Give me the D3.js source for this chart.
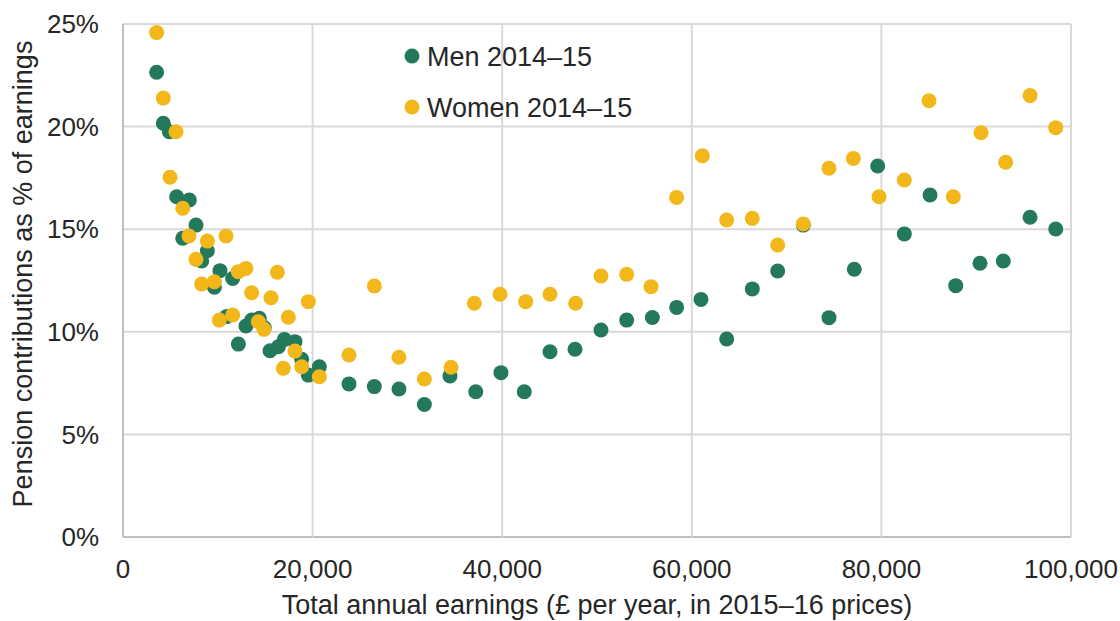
<!DOCTYPE html>
<html>
<head>
<meta charset="utf-8">
<script src="https://cdn.jsdelivr.net/npm/d3@7"></script>
<style>
  body { margin: 0; background: #fff; }
  text { font-family: "Liberation Sans", Arial, sans-serif; fill: #262626; }
</style>
</head>
<body>
<div id="chart"></div>
<script>
// earnings (£) and contribution rate (%)
var menX = [3550, 4250, 4890, 5660, 7000, 6300, 7700, 8900, 8300, 10230, 11570, 9640, 10930, 12970, 13570, 14380, 14900, 12170,
  15510, 16390, 17020, 18140, 18850, 19550, 20710, 23840, 26510, 29110, 31790, 34490, 37210, 39870, 42330, 45040, 47680,
  50420, 53130, 55840, 58400, 60970, 63680, 66380, 69060, 71760, 74470, 77140, 79610, 82420, 85130, 87840, 90400, 92860, 95680, 98390];
var menY = [22.65, 20.16, 19.75, 16.58, 16.42, 14.56, 15.2, 13.95, 13.45, 12.98, 12.6, 12.17, 10.74, 10.28, 10.57, 10.66, 10.2, 9.4,
  9.08, 9.27, 9.63, 9.52, 8.66, 7.89, 8.3, 7.46, 7.33, 7.21, 6.46, 7.85, 7.08, 8.01, 7.08, 9.03, 9.15,
  10.09, 10.57, 10.7, 11.19, 11.58, 9.65, 12.09, 12.96, 15.2, 10.69, 13.05, 18.08, 14.77, 16.67, 12.25, 13.34, 13.45, 15.58, 15.01];

var womenX = [3550, 4250, 4960, 5590, 6300, 6960, 7700, 8300, 8900, 9640, 10160, 10870, 11570, 12170, 12970, 13570, 14280, 14870,
  15610, 16280, 16910, 17440, 18140, 18850, 19550, 20710, 23840, 26510, 29110, 31790, 34600, 37060, 39770, 42480, 45040, 47750,
  50420, 53130, 55700, 58400, 61110, 63680, 66380, 69060, 71760, 74470, 77040, 79750, 82420, 85020, 87590, 90510, 93110, 95680, 98390];
var womenY = [24.58, 21.39, 17.53, 19.75, 16.02, 14.67, 13.53, 12.33, 14.42, 12.44, 10.57, 14.67, 10.82, 12.93, 13.09, 11.9, 10.49, 10.12,
  11.66, 12.9, 8.22, 10.71, 9.06, 8.3, 11.47, 7.81, 8.87, 12.23, 8.76, 7.7, 8.27, 11.39, 11.83, 11.47, 11.83, 11.39,
  12.72, 12.8, 12.2, 16.55, 18.58, 15.45, 15.53, 14.23, 15.25, 17.97, 18.45, 16.58, 17.4, 21.26, 16.58, 19.7, 18.26, 21.51, 19.95];

var seriesNames = ["Men 2014\u201315", "Women 2014\u201315"];
var seriesColors = ["#23795a", "#f2b71a"];
var xTicks = [0, 20000, 40000, 60000, 80000, 100000];
var yTicks = [0, 5, 10, 15, 20, 25];

var width = 1120, height = 621;
var margin = {top: 24, right: 49, bottom: 84, left: 123};

var svg = d3.select("#chart").append("svg")
    .attr("width", width)
    .attr("height", height);

var x = d3.scaleLinear().domain([0, 100000]).range([margin.left, width - margin.right]);
var y = d3.scaleLinear().domain([0, 25]).range([height - margin.bottom, margin.top]);

// grid
svg.append("g").selectAll("line")
    .data(yTicks)
    .join("line")
    .attr("x1", margin.left).attr("x2", width - margin.right)
    .attr("y1", d => y(d)).attr("y2", d => y(d))
    .style("stroke", d => d == 0 ? "#bfbfbf" : "#d9d9d9")
    .style("stroke-width", 2);

svg.append("g").selectAll("line")
    .data(xTicks)
    .join("line")
    .attr("x1", d => x(d)).attr("x2", d => x(d))
    .attr("y1", margin.top).attr("y2", height - margin.bottom)
    .style("stroke", d => d == 0 ? "#bfbfbf" : "#d9d9d9")
    .style("stroke-width", 2);

// tick labels
svg.append("g").selectAll("text")
    .data(yTicks)
    .join("text")
    .attr("x", margin.left - 24)
    .attr("y", d => y(d))
    .attr("dy", "0.35em")
    .attr("text-anchor", "end")
    .style("font-size", "26px")
    .text(d => d + "%");

svg.append("g").selectAll("text")
    .data(xTicks)
    .join("text")
    .attr("x", d => x(d))
    .attr("y", 578)
    .attr("text-anchor", "middle")
    .style("font-size", "26px")
    .text(d => d3.format(",")(d));

// axis titles
svg.append("text")
    .attr("x", 597)
    .attr("y", 614)
    .attr("text-anchor", "middle")
    .style("font-size", "27px")
    .text("Total annual earnings (\u00a3 per year, in 2015\u201316 prices)");

svg.append("text")
    .attr("transform", "translate(32,274) rotate(-90)")
    .attr("text-anchor", "middle")
    .style("font-size", "27px")
    .text("Pension contributions as % of earnings");

// points
var series = [
  d3.zip(menX, menY),
  d3.zip(womenX, womenY)
];

series.forEach(function(pts, i) {
  svg.append("g").selectAll("circle")
      .data(pts)
      .join("circle")
      .attr("cx", d => x(d[0]))
      .attr("cy", d => y(d[1]))
      .attr("r", 7.5)
      .style("fill", seriesColors[i]);
});

// legend
var legend = svg.append("g").selectAll("g")
    .data(seriesNames)
    .join("g")
    .attr("transform", (d, i) => "translate(412," + (56 + i * 51) + ")");

legend.append("circle")
    .attr("r", 7.5)
    .style("fill", (d, i) => seriesColors[i]);

legend.append("text")
    .attr("x", 15)
    .attr("y", 10)
    .style("font-size", "27px")
    .text(d => d);
</script>
</body>
</html>
